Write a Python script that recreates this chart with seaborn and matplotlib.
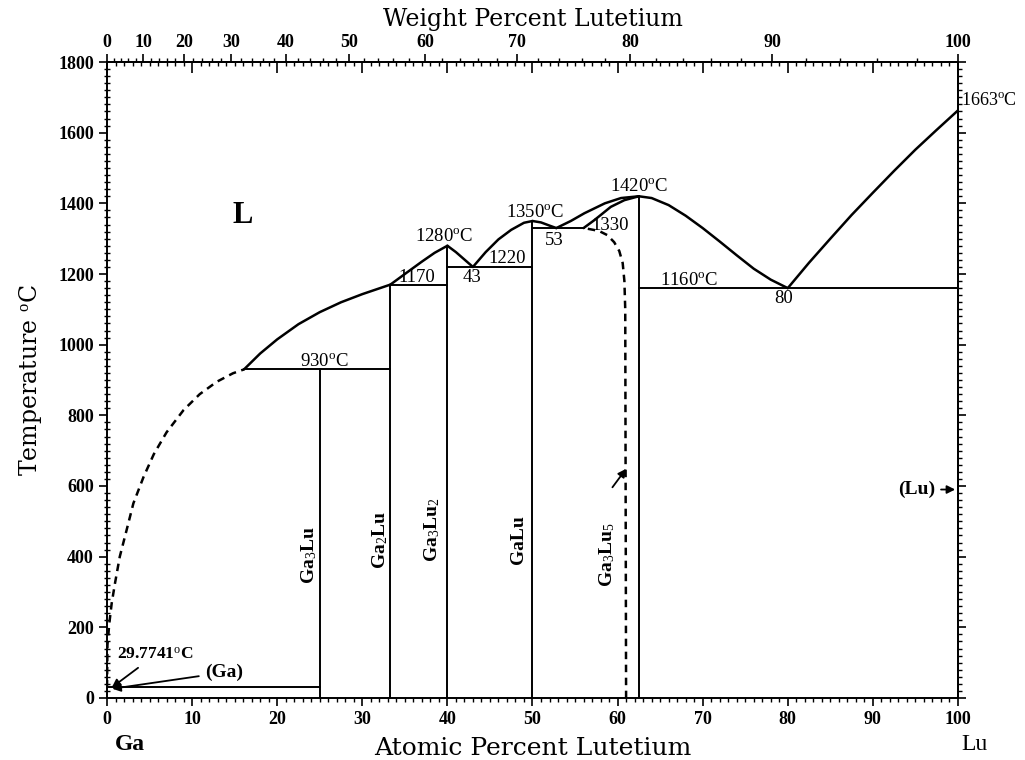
import numpy as np
import pandas as pd
import matplotlib
matplotlib.use("Agg")
import matplotlib.pyplot as plt
import seaborn as sns

# Molar masses for the weight-percent scale
M_GA = 69.723
M_LU = 174.967

# ---- phase boundaries (atomic % Lu, temperature in deg C) ----
ga_liq_x = [0.0, 0.05, 0.27, 0.55, 0.94, 1.5, 2.3, 3.1, 4.3, 5.5, 7.0, 9.0, 10.9, 12.9, 14.8, 16.1]
ga_liq_t = [30, 150, 211, 268, 325, 400, 475, 551, 626, 690, 752, 815, 860, 895, 919, 930]

liq1_x = [16.1, 18.0, 20.0, 22.5, 25.0, 27.5, 30.0, 33.3]
liq1_t = [930, 975, 1015, 1058, 1092, 1120, 1143, 1170]

liq2_x = [33.3, 35.0, 37.0, 38.5, 40.0]
liq2_t = [1170, 1200, 1235, 1260, 1280]

liq3_x = [40.0, 41.0, 42.0, 43.0]
liq3_t = [1280, 1262, 1241, 1220]

liq4_x = [43.0, 44.5, 46.0, 47.5, 49.0, 50.0]
liq4_t = [1220, 1262, 1298, 1325, 1345, 1350]

liq5_x = [50.0, 51.0, 52.0, 52.8]
liq5_t = [1350, 1346, 1337, 1330]

liq6_x = [52.8, 54.5, 56.1, 58.5, 60.4, 62.5]
liq6_t = [1330, 1350, 1372, 1400, 1415, 1420]

sol_x = [56.0, 57.3, 59.2, 60.8, 62.5]
sol_t = [1330, 1353, 1390, 1409, 1420]

ga3lu5_x = [56.5, 57.8, 58.8, 59.6, 60.2, 60.6, 60.8, 60.9, 61.0]
ga3lu5_t = [1328, 1322, 1310, 1290, 1265, 1231, 1180, 1100, 0]

liq7_x = [62.5, 64.0, 66.0, 68.0, 70.0, 72.0, 74.0, 76.0, 78.0, 80.0]
liq7_t = [1420, 1415, 1395, 1365, 1330, 1292, 1253, 1215, 1184, 1160]

liq8_x = [80.0, 82.5, 85.0, 87.5, 90.0, 92.5, 95.0, 97.5, 100.0]
liq8_t = [1160, 1232, 1300, 1367, 1430, 1492, 1552, 1608, 1663]

# invariant reactions: (x_start, x_end, temperature)
horiz_x0 = [0.0, 16.1, 33.3, 40.0, 50.0, 62.5]
horiz_x1 = [25.0, 33.3, 40.0, 50.0, 56.0, 100.0]
horiz_t = [30, 930, 1170, 1220, 1330, 1160]

# line compounds: (composition, top temperature)
comp_x = [25.0, 33.3, 40.0, 50.0, 62.5]
comp_t = [930, 1170, 1280, 1350, 1420]
comp_names = ["Ga$_3$Lu", "Ga$_2$Lu", "Ga$_3$Lu$_2$", "GaLu", "Ga$_3$Lu$_5$"]
comp_label_x = [23.8, 32.1, 38.2, 48.3, 58.8]
comp_label_t = [405, 447, 475, 447, 405]

# temperature / composition annotations
ann_text = ["1420$^{\\rm o}$C", "1350$^{\\rm o}$C", "1280$^{\\rm o}$C", "930$^{\\rm o}$C",
            "1160$^{\\rm o}$C", "1220", "1170", "43", "53", "80"]
ann_x = [62.5, 50.3, 39.6, 25.5, 68.4, 47.0, 36.4, 42.9, 52.6, 79.5]
ann_t = [1447, 1374, 1307, 953, 1182, 1245, 1189, 1189, 1294, 1130]

xticks_at = list(range(0, 101, 10))
xticks_wt = list(range(0, 101, 10))
yticks = list(range(0, 1801, 200))


def at_to_wt(a):
    a = np.clip(np.asarray(a, dtype=float), 0, 100)
    return 100 * a * M_LU / (a * M_LU + (100 - a) * M_GA)


def wt_to_at(w):
    w = np.clip(np.asarray(w, dtype=float), 0, 100)
    return 100 * (w / M_LU) / (w / M_LU + (100 - w) / M_GA)


sns.set_theme(style="ticks")
plt.rcParams["font.family"] = ["Liberation Serif", "DejaVu Serif"]
plt.rcParams["mathtext.fontset"] = "custom"
plt.rcParams["mathtext.rm"] = "Liberation Serif"
plt.rcParams["mathtext.it"] = "Liberation Serif"
plt.rcParams["mathtext.bf"] = "Liberation Serif:bold"
plt.rcParams["text.color"] = "black"
plt.rcParams["axes.labelcolor"] = "black"
plt.rcParams["xtick.color"] = "black"
plt.rcParams["ytick.color"] = "black"

fig = plt.figure(figsize=(10.25, 7.6), dpi=100)
ax = fig.add_axes([0.1044, 0.0816, 0.8302, 0.8368])

# boundaries drawn through seaborn
solid_curves = [(liq1_x, liq1_t), (liq2_x, liq2_t), (liq3_x, liq3_t), (liq4_x, liq4_t),
                (liq5_x, liq5_t), (liq6_x, liq6_t), (sol_x, sol_t), (liq7_x, liq7_t),
                (liq8_x, liq8_t)]
for cx, ct in solid_curves:
    sns.lineplot(x=cx, y=ct, sort=False, estimator=None, color="black", lw=1.8, ax=ax)

for cx, ct in [(ga_liq_x, ga_liq_t), (ga3lu5_x, ga3lu5_t)]:
    sns.lineplot(x=cx, y=ct, sort=False, estimator=None, color="black", lw=1.8,
                 linestyle=(0, (3.0, 2.2)), ax=ax)

for x0, x1, t in zip(horiz_x0, horiz_x1, horiz_t):
    sns.lineplot(x=[x0, x1], y=[t, t], sort=False, estimator=None, color="black",
                 lw=1.4, ax=ax)

for cx, ct in zip(comp_x, comp_t):
    sns.lineplot(x=[cx, cx], y=[0, ct], sort=False, estimator=None, color="black",
                 lw=1.4, ax=ax)

ax.set_xlim(0, 100)
ax.set_ylim(0, 1800)

# text on the diagram
for s, x, t in zip(ann_text, ann_x, ann_t):
    ax.text(x, t, s, ha="center", va="center", fontsize=13.5)
ax.text(56.9, 1338, "1330", ha="left", va="center", fontsize=13.5)
ax.text(100.3, 1668, "1663$^{\\rm o}$C", ha="left", va="bottom", fontsize=13, clip_on=False)
ax.text(15.9, 1367, "L", ha="center", va="center", fontsize=22, fontweight="bold")

for s, x, t in zip(comp_names, comp_label_x, comp_label_t):
    ax.text(x, t, s, rotation=90, ha="center", va="center", fontsize=14, fontweight="bold")

arrow = dict(arrowstyle="-|>", color="black", lw=1.3, mutation_scale=12)
ax.annotate("", xy=(61.2, 655), xytext=(59.2, 590), arrowprops=arrow)
ax.annotate("(Lu)", xy=(100, 590), xytext=(97.3, 590), ha="right", va="center",
            fontsize=14, fontweight="bold", arrowprops=arrow)
ax.annotate("(Ga)", xy=(0.3, 25), xytext=(11.5, 72), ha="left", va="center",
            fontsize=14, fontweight="bold", arrowprops=arrow)
ax.annotate("29.7741$^{\\rm o}$C", xy=(0.3, 25), xytext=(1.2, 122), ha="left", va="center",
            fontsize=12.5, fontweight="bold", arrowprops=arrow)

# axes, ticks and labels
for sp in ax.spines.values():
    sp.set_visible(True)
    sp.set_linewidth(1.4)
    sp.set_color("black")

ax.set_xticks(xticks_at)
ax.set_xticks(np.arange(0, 101, 1), minor=True)
ax.set_yticks(yticks)
ax.set_yticks(np.arange(0, 1801, 20), minor=True)
ax.tick_params(axis="both", which="major", direction="out", length=6, width=1.2,
               labelsize=13, colors="black")
ax.tick_params(axis="x", which="minor", direction="out", length=3, width=1.0)
ax.tick_params(axis="y", which="minor", direction="inout", length=5, width=1.0)
for lab in ax.get_xticklabels() + ax.get_yticklabels():
    lab.set_fontweight("bold")

ax.set_xlabel("Atomic Percent Lutetium", fontsize=18, family="DejaVu Serif", labelpad=6)
ax.set_ylabel("Temperature $^{\\rm o}$C", fontsize=17, family="DejaVu Serif", labelpad=10)

# atomic-percent ticks mirrored on the top edge
top_at = ax.secondary_xaxis("top", functions=(lambda v: v, lambda v: v))
top_at.set_xticks(xticks_at)
top_at.set_xticks(np.arange(0, 101, 1), minor=True)
top_at.set_xticklabels([])
top_at.tick_params(which="major", direction="in", length=8, width=1.2)
top_at.tick_params(which="minor", direction="in", length=3, width=1.0)
top_at.spines["top"].set_linewidth(1.4)

# weight-percent scale on top
top_wt = ax.secondary_xaxis("top", functions=(at_to_wt, wt_to_at))
top_wt.set_xticks(xticks_wt)
top_wt.set_xticks(np.arange(0, 101, 2), minor=True)
top_wt.tick_params(which="major", direction="out", length=6, width=1.2, labelsize=13, pad=2)
top_wt.tick_params(which="minor", direction="out", length=3, width=1.0)
for lab in top_wt.get_xticklabels():
    lab.set_fontweight("bold")
top_wt.set_xlabel("Weight Percent Lutetium", fontsize=17, family="DejaVu Serif", labelpad=6)

# plain tick marks on the right edge
right = ax.secondary_yaxis("right", functions=(lambda v: v, lambda v: v))
right.set_yticks(yticks)
right.set_yticks(np.arange(0, 1801, 20), minor=True)
right.set_yticklabels([])
right.tick_params(which="major", direction="out", length=6, width=1.2)
right.tick_params(which="minor", direction="out", length=3, width=1.0)

fig.text(0.127, 0.02, "Ga", fontsize=17, fontweight="bold", ha="center", va="center")
fig.text(0.951, 0.02, "Lu", fontsize=17, ha="center", va="center")

fig.savefig("out.png", dpi=100, facecolor="white")
